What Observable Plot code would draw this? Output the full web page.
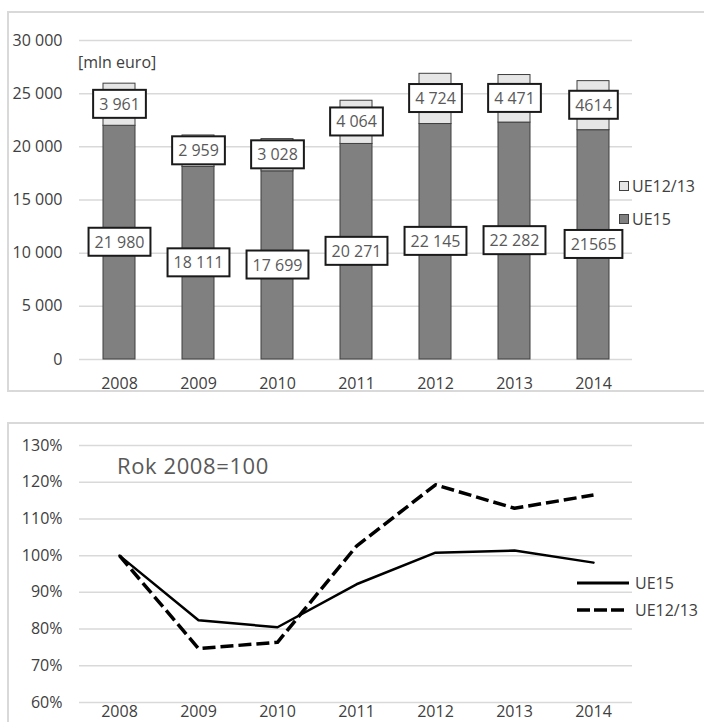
<!DOCTYPE html>
<html><head><meta charset="utf-8">
<script src="https://cdn.jsdelivr.net/npm/d3@7"></script>
<script src="https://cdn.jsdelivr.net/npm/@observablehq/plot@0.6"></script>
<style>
body{margin:0;width:704px;height:722px;overflow:hidden;position:relative;background:#fff;font-family:"Open Sans",sans-serif;}
.abs{position:absolute;white-space:nowrap;}
.t{height:24px;line-height:24px;font-size:16px;color:#404040;}
</style></head><body>
<div id="c1" class="abs" style="left:0;top:0"></div>
<div id="c2" class="abs" style="left:0;top:400px"></div>
<div class="abs" style="left:7px;top:11px;width:720px;height:377px;border:2px solid #d9d9d9"></div>
<div class="abs" style="left:7px;top:422px;width:720px;height:400px;border:2px solid #d9d9d9"></div>
<div class="abs t" style="left:78px;top:50px;">[mln euro]</div>
<div class="abs" style="left:619px;top:181px;width:8px;height:8px;background:#e7e6e6;border:1px solid #404040"></div>
<div class="abs t" style="left:632px;top:174px;">UE12/13</div>
<div class="abs" style="left:619px;top:214px;width:8px;height:8px;background:#808080;border:1px solid #404040"></div>
<div class="abs t" style="left:632px;top:207px;">UE15</div>
<div class="abs" style="left:117px;top:450px;height:30px;line-height:30px;font-size:22px;letter-spacing:0.6px;color:#595959">Rok 2008=100</div>
<svg class="abs" style="left:570px;top:570px" width="70" height="50">
  <line x1="7" x2="59" y1="13" y2="13" stroke="#000" stroke-width="3"/>
  <line x1="7" x2="54" y1="40" y2="40" stroke="#000" stroke-width="3.5" stroke-dasharray="13,4"/>
</svg>
<div class="abs t" style="left:635px;top:571px;">UE15</div>
<div class="abs t" style="left:635px;top:598px;">UE12/13</div>
<script>
const years = ["2008", "2009", "2010", "2011", "2012", "2013", "2014"];
const seriesNames = ["UE15", "UE12/13"];
const ue15 = [21980, 18111, 17699, 20271, 22145, 22282, 21565];
const ue12 = [3961, 2959, 3028, 4064, 4724, 4471, 4614];
const ue15Labels = ["21 980", "18 111", "17 699", "20 271", "22 145", "22 282", "21565"];
const ue12Labels = ["3 961", "2 959", "3 028", "4 064", "4 724", "4 471", "4614"];
const yTicks1 = [0, 5000, 10000, 15000, 20000, 25000, 30000];
const ue15Index = [100, 82.4, 80.5, 92.2, 100.8, 101.4, 98.1];
const ue12Index = [100, 74.7, 76.4, 102.6, 119.3, 112.9, 116.5];
const yTicks2 = [60, 70, 80, 90, 100, 110, 120, 130];

const bars = years.flatMap((y, i) => [
  {year: y, series: seriesNames[0], value: ue15[i], label: ue15Labels[i]},
  {year: y, series: seriesNames[1], value: ue12[i], label: ue12Labels[i]}
]);
const lines = years.flatMap((y, i) => [
  {year: y, series: seriesNames[0], value: ue15Index[i]},
  {year: y, series: seriesNames[1], value: ue12Index[i]}
]);
const fmt = d => d3.format(",")(d).replace(/,/g, " ");
const baseStyle = {fontFamily: "'Open Sans', sans-serif", fontSize: "16px", color: "#404040", background: "transparent", overflow: "visible"};

const p1 = Plot.plot({
  width: 704, height: 392,
  marginLeft: 79, marginRight: 72, marginTop: 40, marginBottom: 33,
  style: baseStyle,
  x: {domain: years, paddingInner: 0.6, paddingOuter: 0.3, label: null},
  y: {domain: [0, 30000], label: null},
  color: {domain: seriesNames, range: ["#808080", "#e7e6e6"]},
  marks: [
    Plot.gridY(yTicks1, {stroke: "#d9d9d9", strokeOpacity: 1, strokeWidth: 1.5}),
    Plot.axisY(yTicks1, {tickSize: 0, tickPadding: 17, tickFormat: fmt, label: null}),
    Plot.axisX({tickSize: 0, tickPadding: 18, label: null}),
    Plot.barY(bars, {x: "year", y: "value", fill: "series", stroke: "#3f3f3f", strokeWidth: 1}),
    Plot.text(bars, Plot.stackY({x: "year", y: "value", z: "series", text: "label", fill: "#595959"}))
  ]
});
document.getElementById("c1").appendChild(p1);

document.querySelectorAll('#c1 g[aria-label="text"] text').forEach(t => {
  const b = t.getBBox();
  const r = document.createElementNS("http://www.w3.org/2000/svg", "rect");
  r.setAttribute("x", b.x - 6);
  r.setAttribute("y", b.y - 3);
  r.setAttribute("width", b.width + 12);
  r.setAttribute("height", b.height + 6);
  r.setAttribute("fill", "#fff");
  r.setAttribute("stroke", "#1a1a1a");
  r.setAttribute("stroke-width", 2);
  const tr = t.getAttribute("transform");
  if (tr) r.setAttribute("transform", tr);
  t.parentNode.insertBefore(r, t);
});

const p2 = Plot.plot({
  width: 704, height: 340,
  marginLeft: 79, marginRight: 72, marginTop: 45, marginBottom: 38,
  style: baseStyle,
  x: {type: "point", domain: years, padding: 0.5, label: null},
  y: {domain: [60, 130], label: null},
  marks: [
    Plot.gridY(yTicks2, {stroke: "#d9d9d9", strokeOpacity: 1, strokeWidth: 1.5}),
    Plot.axisY(yTicks2, {tickSize: 0, tickPadding: 17, tickFormat: d => d + "%", label: null}),
    Plot.axisX({tickSize: 0, tickPadding: 3, label: null}),
    Plot.line(lines.filter(d => d.series === seriesNames[0]), {x: "year", y: "value", stroke: "#000", strokeWidth: 2.5}),
    Plot.line(lines.filter(d => d.series === seriesNames[1]), {x: "year", y: "value", stroke: "#000", strokeWidth: 3.5, strokeDasharray: "13,5", strokeLinecap: "butt"})
  ]
});
document.getElementById("c2").appendChild(p2);
</script>
</body></html>
